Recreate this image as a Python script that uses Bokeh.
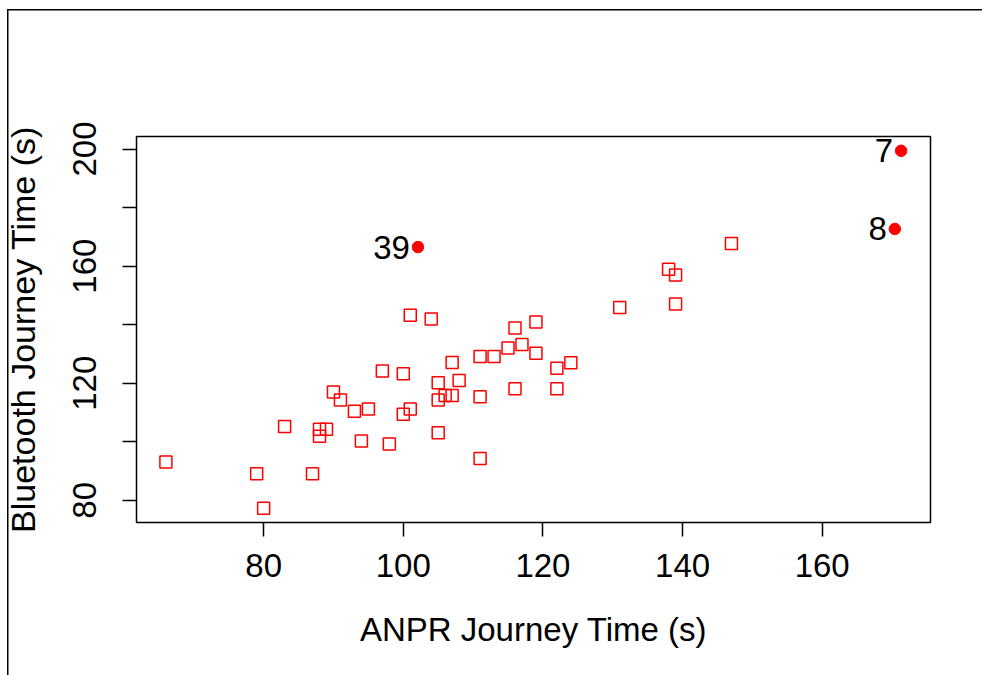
from bokeh.plotting import figure
from bokeh.models import ColumnDataSource, FixedTicker
from bokeh.core.properties import value
from bokeh.embed import file_html
from bokeh.resources import INLINE

# ---- data ----
anpr = [66, 79, 80, 83, 87, 88, 89, 88, 90, 91, 93, 95, 94, 97, 98, 100, 101, 104,
        100, 101, 105, 105, 105, 106, 107, 107, 108, 111, 111, 111, 113, 115, 116,
        117, 116, 119, 119, 122, 122, 124, 131, 139, 138, 139, 147]
bluetooth = [93.1, 89.1, 77.3, 105.2, 89.1, 104.3, 104.3, 101.9, 117.0, 114.3, 110.4,
             111.2, 100.3, 124.2, 99.2, 123.2, 143.2, 141.9, 109.4, 111.2, 120.2, 114.3,
             103.1, 115.8, 115.8, 127.1, 120.9, 129.1, 115.4, 94.3, 129.1, 132.0, 138.9,
             133.2, 118.1, 140.9, 130.2, 125.1, 118.1, 127.0, 145.9, 147.1, 158.9, 157.0,
             167.7]
outlier_ids = ["7", "8", "39"]
outlier_anpr = [171.3, 170.4, 102.1]
outlier_bt = [199.4, 172.7, 166.5]

x_ticks = [80, 100, 120, 140, 160]
y_ticks = [80, 100, 120, 140, 160, 180, 200]
y_labelled = [80, 120, 160, 200]

all_x = anpr + outlier_anpr
all_y = bluetooth + outlier_bt
xpad = 0.04 * (max(all_x) - min(all_x))
ypad = 0.04 * (max(all_y) - min(all_y))

FONT = "Liberation Sans"
FS = "33px"

p = figure(
    frame_width=794, frame_height=386,
    min_border_left=135, min_border_top=136,
    min_border_right=53, min_border_bottom=153,
    x_range=(min(all_x) - xpad, max(all_x) + xpad),
    y_range=(min(all_y) - ypad, max(all_y) + ypad),
    output_backend="svg", toolbar_location=None,
)
# outer page frame (left and top lines) drawn as CSS background behind a transparent border area
p.styles = {
    "background-color": "white",
    "background-image": "linear-gradient(black, black), linear-gradient(black, black)",
    "background-size": "1.5px 100%, 100% 1.5px",
    "background-position": "7px 9px, 7px 9px",
    "background-repeat": "no-repeat",
}
p.border_fill_color = None
p.background_fill_color = "white"

p.grid.visible = False
p.outline_line_color = "black"
p.outline_line_width = 1.5

src = ColumnDataSource(dict(x=anpr, y=bluetooth))
p.scatter("x", "y", source=src, marker="square", size=12,
          fill_color=None, line_color="red", line_width=1.5)

osrc = ColumnDataSource(dict(x=outlier_anpr, y=outlier_bt, t=outlier_ids))
p.scatter("x", "y", source=osrc, marker="circle", size=11.5,
          fill_color="red", line_color="red")
p.text("x", "y", text="t", source=osrc, text_align="right", text_baseline="middle",
       x_offset=-8, text_font=value(FONT), text_font_size=value(FS), text_color="black")

for ax in (p.xaxis[0], p.yaxis[0]):
    ax.axis_line_color = None
    ax.major_tick_in = 0
    ax.major_tick_out = 14
    ax.major_tick_line_width = 1.5
    ax.major_tick_line_color = "black"
    ax.minor_tick_line_color = None
    ax.major_label_text_font = FONT
    ax.major_label_text_font_size = FS
    ax.major_label_text_color = "black"
    ax.axis_label_text_font = FONT
    ax.axis_label_text_font_style = "normal"
    ax.axis_label_text_color = "black"

p.xaxis[0].axis_label_text_font_size = "33px"
p.yaxis[0].axis_label_text_font_size = "34px"

p.xaxis[0].ticker = FixedTicker(ticks=x_ticks)
p.yaxis[0].ticker = FixedTicker(ticks=y_ticks)
p.yaxis[0].major_label_overrides = {t: (str(t) if t in y_labelled else "") for t in y_ticks}
p.yaxis[0].major_label_orientation = "vertical"

p.xaxis[0].axis_label = "ANPR Journey Time (s)"
p.yaxis[0].axis_label = "Bluetooth Journey Time (s)"
p.xaxis[0].major_label_standoff = 17
p.xaxis[0].axis_label_standoff = 31
p.yaxis[0].major_label_standoff = 26
p.yaxis[0].axis_label_standoff = 29

open("out.html", "w").write(file_html(p, INLINE))
